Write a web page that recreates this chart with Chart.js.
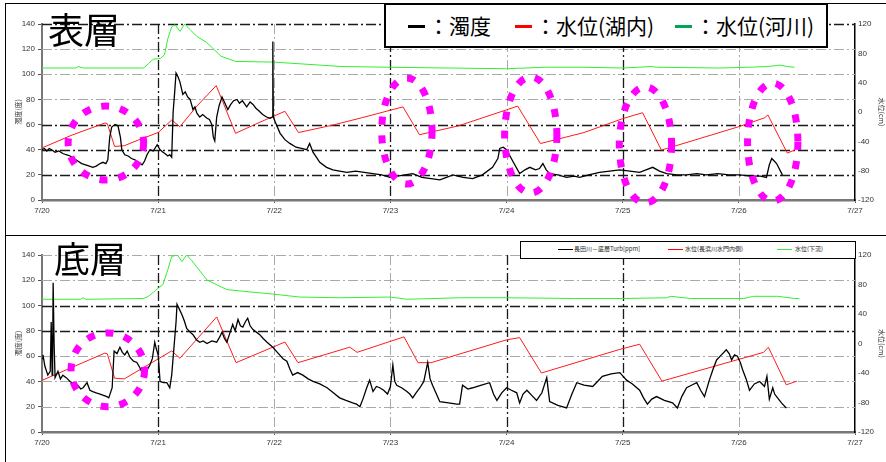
<!DOCTYPE html>
<html>
<head>
<meta charset="utf-8">
<script src="https://cdn.jsdelivr.net/npm/chart.js@4"></script>
<style>
body{margin:0;width:886px;height:462px;overflow:hidden;position:relative;background:#fff;font-family:"Noto Sans CJK JP",sans-serif}
.frame{position:absolute;border:1px solid #000}
canvas{position:absolute;left:0}
.big{position:absolute;font-size:36px;line-height:36px;color:#000;z-index:3}
.leg{position:absolute;background:#fff;z-index:3;box-sizing:border-box}
.leg span{position:absolute;white-space:nowrap}
.leg i{position:absolute;display:block}
.small span{color:#222;-webkit-font-smoothing:antialiased}
</style>
</head>
<body>
<div class="frame" style="left:5px;top:3px;width:900px;height:231px"></div>
<div class="frame" style="left:5px;top:235px;width:900px;height:300px"></div>
<canvas id="topChart" width="886" height="232" style="top:0"></canvas>
<canvas id="botChart" width="886" height="227" style="top:235px"></canvas>

<div class="big" style="left:48px;top:10px">表層</div>
<div class="big" style="left:54px;top:239px">底層</div>

<div class="leg" style="left:384px;top:3px;width:444px;height:45px;border:2px solid #000;font-size:21px;line-height:21px">
  <i style="left:22px;top:20px;width:17px;height:3px;background:#000"></i>
  <span style="left:42px;top:10px">：濁度</span>
  <i style="left:129px;top:20px;width:17px;height:3px;background:#f00"></i>
  <span style="left:149px;top:10px">：水位(湖内)</span>
  <i style="left:289px;top:20px;width:17px;height:3px;background:#00a651"></i>
  <span style="left:309px;top:10px">：水位(河川)</span>
</div>

<div class="leg small" style="left:520px;top:241px;width:336px;height:18px;border:1px solid #000;font-size:6px;line-height:6px">
  <i style="left:37px;top:7px;width:15px;height:1px;background:#000"></i>
  <span style="left:53px;top:4px">長田川－底層Turb[ppm]</span>
  <i style="left:147px;top:7px;width:15px;height:1px;background:#f00"></i>
  <span style="left:164px;top:4px">水位(長浜川水門内側)</span>
  <i style="left:256px;top:7px;width:15px;height:1px;background:#3e3"></i>
  <span style="left:274px;top:4px">水位(下流)</span>
</div>

<script>
const dayLabels = ['7/20','7/21','7/22','7/23','7/24','7/25','7/26','7/27'];

// hours after 7/20 0:00 ; turbidity (度) on the left axis, levels (cm) on the right axis
const topTurbT = [0,0.5,1,1.5,2,2.7,3.5,4.3,5,5.8,
  6.6,7.4,8.2,9,9.8,10.5,11.2,12,12.6,13.2,
  13.6,14,14.4,15.1,15.7,16.2,16.5,17.1,17.8,18.5,
  19.2,19.9,20.7,21.2,21.7,22.3,23,23.8,24.4,25,
  25.4,26,26.4,26.8,27.1,27.4,27.7,28.1,28.5,29.1,
  29.6,30.1,30.6,31.2,31.6,32,32.6,33.2,34.1,34.6,
  35.1,35.4,35.7,36.1,36.6,37.2,37.8,38.4,39,39.6,
  40.3,40.8,41.4,42.3,43,43.6,44.2,44.8,45.6,46.4,
  47.2,47.6,47.7,47.8,48.2,49.2,50.2,51.2,52.5,53.6,
  54.7,55.3,56,57.4,58.8,60.1,61.5,63,64.8,66.6,
  68.4,70.2,71.9,73.5,75,76.6,78.5,80.4,82.2,83.6,
  84.9,87,89,91,93.1,94.2,94.6,95.3,96,97.4,
  98.7,99.8,100.8,102,102.8,103.5,104.2,104.9,106.6,108.4,
  110,111.1,113,115.2,117.3,119.4,121.5,123.5,124.8,126.2,
  127.6,129.1,131.2,133.2,135.3,137.3,139.6,142,144.2,146.5,
  148.5,149.7,150.3,150.8,151.3,151.8,153];
const topTurbV = [40,41,39,41,40,38,39,37,36,35,
  33,31,29,28,27,26,27,29,30,29,
  32,50,58,60,59,50,40,36,35,33,
  32,30,28,31,36,40,39,44,40,38,
  37,35,36,34,70,85,101,98,94,84,
  86,82,80,72,74,69,66,68,65,64,
  60,50,47,66,75,82,77,72,76,79,
  80,77,79,74,78,76,73,71,68,66,
  65,66,126,66,62,53,48,45,42,41,
  40,45,38,30,26,24,23,22,23,22,
  21,20,18,19,20,21,18,17,16,18,
  20,18,17,20,26,33,41,42,40,30,
  21,24,26,24,25,29,24,21,20,18,
  19,18,20,22,23,24,23,22,24,26,
  23,21,20,20,21,20,21,20,20,19,
  19,18,28,33,31,29,20];

const topLakeT = [0,6,13,13.5,15,17,20,24,26.8,28.5,32,36,40,45,50.2,53,60,66,74.6,78,86,98.3,103,112,120,124.1,128,136,144,149.3,150,154,155.5];
const topLakeV = [-49,-32,-15,-16,-47,-46,-38,-28,-11,-20,8,36,-29,-14,1,-28,-18,-8,7,-31,-19,8,-43,-28,-9,-1,-52,-36,-20,-8,-4,-56,-52];

const topRiverT = [0,7,7.5,8.5,21,22,23,24.5,25.3,26,26.8,27.5,28.5,29.5,30.5,32,34,37,40,48,62,72,84,96,104,112,120,126,127,140,146,150,152.5,154,155.5];
const topRiverV = [60,60,62,60,60,66,72,73,78,100,116,119,110,120,113,103,95,76,69,68,62,61,60,59,61,61,60,62,61,60,61,62,64,62,61];

const botTurbT = [0,0.2,0.6,1.2,1.7,1.9,2.1,2.2,2.3,2.5,
  2.7,3.3,3.8,4.3,5,5.8,6.6,7.4,8,8.5,
  9.3,9.9,10.5,11.2,12,12.7,13.4,13.8,14.5,14.9,
  15.5,16.1,16.6,17.1,17.6,18.2,18.9,19.6,20.2,20.9,
  21.7,22.3,22.8,23.3,23.6,24,24.4,25.1,25.8,26.4,
  26.8,27.1,27.7,27.9,28.4,28.9,29.4,29.9,30.6,31.2,
  31.9,32.6,33.3,34.1,35.1,36.1,36.7,37.2,37.7,38.2,
  38.8,39.4,39.9,40.5,41,41.5,42,42.5,43,43.6,
  44.3,45,45.7,46.5,47.1,47.7,48.4,49.1,49.8,50.6,
  51.2,51.8,52.8,53.9,55,56,57.4,58.9,60.2,61.5,
  62.8,64.2,65,65.7,66.4,67.1,67.7,68.4,69.1,69.8,
  70.6,71.4,72,72.5,72.9,73.3,74.3,75.4,76,76.6,
  77.3,78.1,78.9,79.7,80.2,80.7,81.5,82.2,84,85.7,
  86.3,86.9,88,89,90.8,92.5,93.3,94,95,96,
  97,98.1,98.7,99.4,100.2,101.2,102.2,103.3,104.3,104.9,
  106.6,108.4,109.5,110.5,112,113.8,114.8,115.8,117.6,119.4,
  120.8,122,123.5,124.3,125.1,126,127,128.6,130.3,131.3,
  132.2,133.2,134.2,135.3,136.1,136.9,137.9,138.7,139.4,140.4,
  141.4,142,142.5,143.1,143.7,144.3,144.8,145.5,146.2,147.2,
  148.3,148.8,149.3,149.8,150.3,151,151.4,151.8,152.8,153.8];
const botTurbV = [58,61,52,45,48,87,45,60,118,70,
  43,48,42,45,43,40,38,37,34,35,
  39,33,32,31,30,29,28,27,35,64,
  62,67,63,61,64,59,56,55,51,45,
  49,53,58,71,66,61,40,39,39,35,
  45,59,87,101,97,93,88,82,79,77,
  73,71,72,70,72,71,75,79,74,71,
  78,85,80,89,84,83,87,90,84,81,
  79,77,74,71,69,67,64,61,58,56,
  50,45,47,45,42,40,38,35,31,27,
  25,23,22,20,27,35,41,32,36,35,
  33,30,36,53,40,37,35,32,30,27,
  31,35,40,55,42,37,30,24,23,22,
  22,37,34,35,37,39,30,25,31,35,
  33,31,23,30,33,29,25,31,43,24,
  21,19,30,39,37,36,40,44,46,47,
  41,38,33,27,22,26,28,25,23,19,
  28,35,37,39,33,28,41,50,57,61,
  65,62,57,61,60,55,49,42,33,38,
  40,38,36,44,26,35,30,28,23,19];

const botLakeT = [0,13,13.5,15,17,26.8,28.5,36.1,40.1,50.2,52.9,63.6,65.1,74.8,77.7,80.4,96,98.7,103.2,119.4,123.5,128.1,149.1,150.1,153.8,156];
const botLakeV = [-50,-13,-14,-47,-48,-10,-20,36,-26,2,-26,-5,-12,9,-26,-26,5,8,-40,-8,-1,-51,-12,-5,-56,-51];

const botRiverT = [0,8,8.5,9,21,22,24,25,26,26.8,28,28.9,29.9,31,34.1,38.2,47.7,53.3,61.5,71.9,75.4,86.3,96,110,120,129,130,134,145,147,152,155.5,156.5];
const botRiverV = [60,60,62,60,61,64,75,80,100,118,120,111,120,112,86,73,67,63,62,63,60,62,62,61,61,62,64,61,61,64,64,61,61];

// dotted rings: centre hour, centre turbidity, half width (h), half height
const topRings = [[13.2,45.3,7.8,29.4],[75.4,54.9,5.2,42.2],[101,51.7,5.4,46.1],[124.7,43.8,5.4,46.1],[151,46.1,5.2,46.9]];
const botRings = [[13.6,49.2,7.6,29.2]];

const topGrid = {darkY:[140,60,40,20], lightY:[120,100,80], darkX:[24,72,120], lightX:[48,96,144]};
const botGrid = {darkY:[100,80], lightY:[140,120,60,40,20], darkX:[24,96,120], lightX:[48,72,144]};

const pts = (t, v) => t.map((h, i) => ({x: h, y: v[i]}));
const tickFont = {family: "'Liberation Sans Narrow','Liberation Sans',sans-serif", size: 8};
const titleFont = {family: "'Noto Sans CJK JP',sans-serif", size: 7};

const gridPlugin = {
  id: 'dashGrid',
  beforeDatasetsDraw(chart, args, o) {
    const {ctx, chartArea: a, scales: {x, y}} = chart;
    ctx.save();
    ctx.setLineDash([10,3,2,3]);
    const draw = (list, isX, dark) => list.forEach(v => {
      const p = Math.round(isX ? x.getPixelForValue(v) : y.getPixelForValue(v)) + 0.5;
      ctx.strokeStyle = dark ? '#1a1a1a' : '#aaaaaa';
      ctx.lineWidth = dark ? 1.3 : 1;
      ctx.beginPath();
      if (isX) { ctx.moveTo(p, a.top); ctx.lineTo(p, a.bottom); }
      else { ctx.moveTo(a.left, p); ctx.lineTo(a.right, p); }
      ctx.stroke();
    });
    draw(o.lightY, false, false); draw(o.lightX, true, false);
    draw(o.darkY, false, true); draw(o.darkX, true, true);
    ctx.restore();
  }
};

const ringPlugin = {
  id: 'rings',
  afterDatasetsDraw(chart, args, o) {
    const {ctx, scales: {x, y}} = chart;
    ctx.save();
    ctx.strokeStyle = '#ff00ff';
    ctx.lineWidth = 7;
    ctx.setLineDash([8, 11]);
    o.list.forEach(([cx, cy, rx, ry]) => {
      const px = x.getPixelForValue(cx), py = y.getPixelForValue(cy);
      const w = Math.abs(x.getPixelForValue(cx + rx) - px);
      const h = Math.abs(y.getPixelForValue(cy + ry) - py);
      ctx.beginPath();
      ctx.ellipse(px, py, w, h, 0, 0, Math.PI * 2);
      ctx.stroke();
    });
    ctx.restore();
  }
};

function makeChart(id, padTop, xH, turb, lake, river, grid, rings) {
  return new Chart(document.getElementById(id), {
    type: 'line',
    data: {
      datasets: [
        {data: turb, borderColor: '#000', borderWidth: 1.3, yAxisID: 'y'},
        {data: lake, borderColor: '#ff1a1a', borderWidth: 1, yAxisID: 'y1'},
        {data: river, borderColor: '#33ee33', borderWidth: 1, yAxisID: 'y1'}
      ]
    },
    options: {
      responsive: false, animation: false, devicePixelRatio: 1,
      layout: {padding: {top: padTop, left: 0, right: 0, bottom: 0}},
      elements: {point: {radius: 0}, line: {tension: 0}},
      plugins: {legend: {display: false}, tooltip: {enabled: false}, dashGrid: grid, rings: {list: rings}},
      scales: {
        x: {
          type: 'linear', min: 0, max: 168,
          ticks: {stepSize: 24, autoSkip: false, maxRotation: 0, padding: 3, color: '#333', font: tickFont,
                  callback: v => dayLabels[Math.round(v / 24)]},
          grid: {drawOnChartArea: false, tickLength: 3, color: '#555'},
          border: {color: '#777', width: 2.5},
          afterFit: s => { s.height = xH; }
        },
        y: {
          position: 'left', min: 0, max: 140,
          ticks: {stepSize: 20, padding: 3, color: '#333', font: tickFont},
          grid: {drawOnChartArea: false, tickLength: 4, color: '#555'},
          border: {color: '#777', width: 2},
          title: {display: true, text: '濁度(度)', font: titleFont, color: '#333', padding: {top: 14, bottom: 0}},
          afterFit: s => { s.width = 42; }
        },
        y1: {
          position: 'right', min: -120, max: 120,
          ticks: {stepSize: 40, padding: 3, color: '#333', font: tickFont},
          grid: {drawOnChartArea: false, drawTicks: false},
          border: {color: '#000', width: 1.5},
          title: {display: true, text: '水位(cm)', font: titleFont, color: '#333', padding: {top: 0, bottom: 0}},
          afterFit: s => { s.width = 31; }
        }
      }
    },
    plugins: [gridPlugin, ringPlugin]
  });
}

makeChart('topChart', 24, 32, pts(topTurbT, topTurbV), pts(topLakeT, topLakeV), pts(topRiverT, topRiverV), topGrid, topRings);
makeChart('botChart', 20, 30, pts(botTurbT, botTurbV), pts(botLakeT, botLakeV), pts(botRiverT, botRiverV), botGrid, botRings);
</script>
</body>
</html>
